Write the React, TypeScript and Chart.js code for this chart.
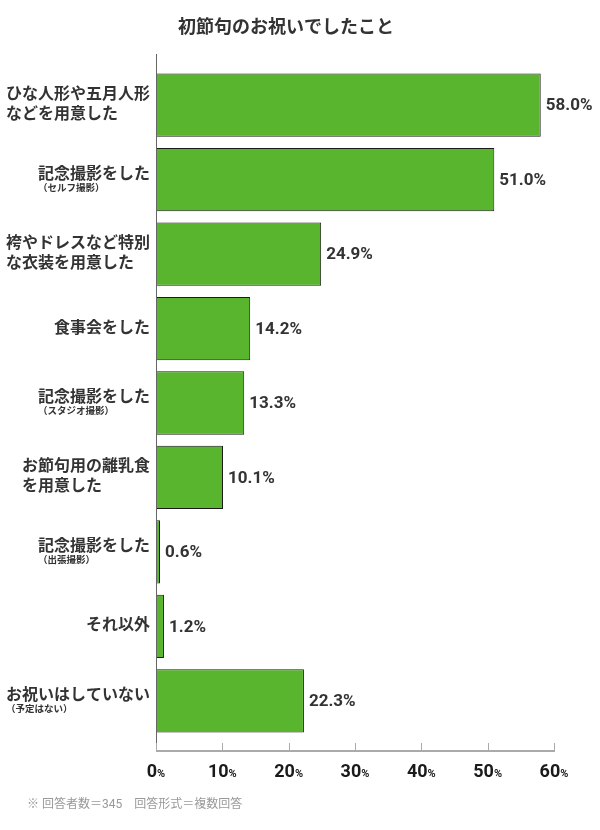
import { Chart, registerables } from "chart.js";
import React, { useEffect, useRef } from "react";

Chart.register(...registerables);

const title = "初節句のお祝いでしたこと";
const footnote = "※ 回答者数＝345　回答形式＝複数回答";

const labelLines: string[][] = [
  ["ひな人形や五月人形", "などを用意した"],
  ["記念撮影をした"],
  ["袴やドレスなど特別", "な衣装を用意した"],
  ["食事会をした"],
  ["記念撮影をした"],
  ["お節句用の離乳食", "を用意した"],
  ["記念撮影をした"],
  ["それ以外"],
  ["お祝いはしていない"],
];
const subLabels = ["", "（セルフ撮影）", "", "", "（スタジオ撮影）", "", "（出張撮影）", "", "（予定はない）"];
const values = [58.0, 51.0, 24.9, 14.2, 13.3, 10.1, 0.6, 1.2, 22.3];
const xTicks = [0, 10, 20, 30, 40, 50, 60];

const FONT = "Roboto, 'Noto Sans CJK JP', sans-serif";
const TEXT = "#333333";

const decorations = {
  id: "decorations",
  afterDraw(chart: Chart) {
    const ctx = chart.ctx;
    const x = chart.scales.x;
    const y = chart.scales.y;
    const area = chart.chartArea;
    const axisY = 751;
    ctx.save();

    // title
    ctx.fillStyle = TEXT;
    ctx.font = `bold 18px ${FONT}`;
    ctx.textAlign = "center";
    ctx.textBaseline = "middle";
    ctx.fillText(title, 286, 28);

    // left axis line
    ctx.strokeStyle = "#666666";
    ctx.lineWidth = 1;
    ctx.beginPath();
    ctx.moveTo(area.left + 0.5, 54);
    ctx.lineTo(area.left + 0.5, axisY);
    ctx.stroke();

    // bottom axis + ticks
    ctx.strokeStyle = "#aaaaaa";
    ctx.lineWidth = 2;
    ctx.beginPath();
    ctx.moveTo(area.left, axisY);
    ctx.lineTo(area.right + 1, axisY);
    ctx.stroke();
    ctx.lineWidth = 1;
    xTicks.forEach((t) => {
      const px = Math.round(x.getPixelForValue(t)) + 0.5;
      ctx.beginPath();
      ctx.moveTo(px, axisY - 8);
      ctx.lineTo(px, axisY);
      ctx.stroke();
    });

    // x tick labels: number large, % small
    ctx.fillStyle = "#1a1a1a";
    ctx.textAlign = "left";
    ctx.textBaseline = "alphabetic";
    xTicks.forEach((t) => {
      const px = x.getPixelForValue(t);
      ctx.font = `bold 18px ${FONT}`;
      const numW = ctx.measureText(String(t)).width;
      ctx.font = `bold 11px ${FONT}`;
      const pctW = ctx.measureText("%").width;
      const start = px - (numW + pctW) / 2;
      ctx.font = `bold 18px ${FONT}`;
      ctx.fillText(String(t), start, 777);
      ctx.font = `bold 11px ${FONT}`;
      ctx.fillText("%", start + numW, 777);
    });

    // y category labels
    ctx.fillStyle = TEXT;
    ctx.textBaseline = "middle";
    labelLines.forEach((lines, i) => {
      const cy = y.getPixelForValue(i);
      ctx.font = `bold 16px ${FONT}`;
      const maxW = Math.max(...lines.map((l) => ctx.measureText(l).width));
      const left = 150 - maxW;
      ctx.textAlign = "left";
      if (subLabels[i]) {
        ctx.fillText(lines[0], left, cy - 5);
        ctx.font = `bold 9.5px ${FONT}`;
        ctx.fillText(subLabels[i], left, cy + 9);
      } else if (lines.length === 2) {
        ctx.fillText(lines[0], left, cy - 10);
        ctx.fillText(lines[1], left, cy + 10);
      } else {
        ctx.fillText(lines[0], left, cy);
      }
    });

    // value labels
    ctx.font = `bold 17px ${FONT}`;
    ctx.textAlign = "left";
    values.forEach((v, i) => {
      ctx.fillText(`${v.toFixed(1)}%`, x.getPixelForValue(v) + 5, y.getPixelForValue(i) + 1);
    });

    // footnote
    ctx.fillStyle = "#999999";
    ctx.font = `12px ${FONT}`;
    ctx.fillText(footnote, 27, 805);

    ctx.restore();
  },
};

const App: React.FC = () => {
  const chartRef = useRef<HTMLCanvasElement>(null);

  useEffect(() => {
    document.body.style.margin = "0";
    let chartInstance: Chart | null = null;
    if (chartRef.current) {
      chartInstance = new Chart(chartRef.current, {
        type: "bar",
        data: {
          labels: labelLines.map((l, i) => l.join("") + subLabels[i]),
          datasets: [
            {
              data: values,
              backgroundColor: "#5ab52e",
              borderColor: "#1a1a1a",
              borderWidth: 1,
              barPercentage: 0.85,
              categoryPercentage: 1,
            },
          ],
        },
        options: {
          indexAxis: "y",
          responsive: false,
          animation: false,
          layout: { padding: { left: 156, right: 46, top: 68, bottom: 92 } },
          scales: {
            x: { display: false, min: 0, max: 60 },
            y: { display: false },
          },
          plugins: {
            legend: { display: false },
            tooltip: { enabled: false },
          },
        },
        plugins: [decorations],
      });
    }
    return () => {
      if (chartInstance) {
        chartInstance.destroy();
      }
    };
  }, []);

  return (
    <div style={{ width: 600, height: 830, background: "#ffffff" }}>
      <canvas ref={chartRef} width={600} height={830} style={{ display: "block" }}></canvas>
    </div>
  );
};

export default App;
